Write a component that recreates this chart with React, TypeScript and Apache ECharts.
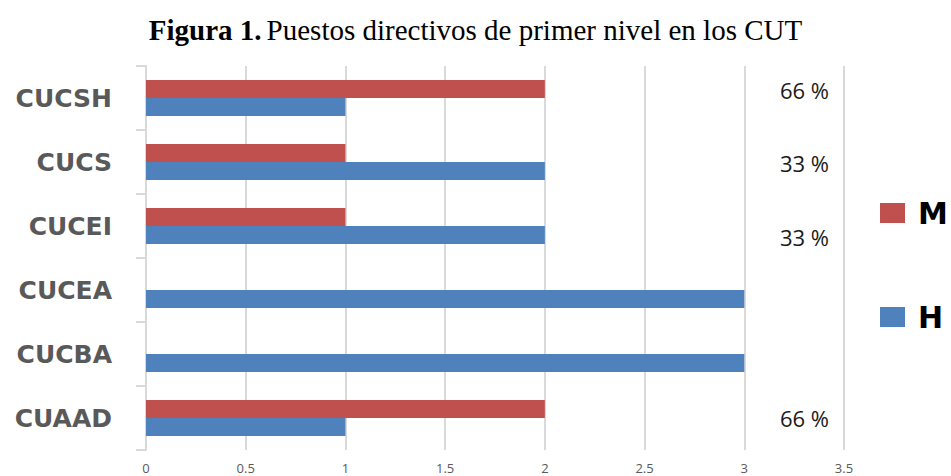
import React, { useEffect, useRef } from "react";
import * as echarts from "echarts";

const categories = ["CUAAD", "CUCBA", "CUCEA", "CUCEI", "CUCS", "CUCSH"];
const valuesH = [1, 3, 3, 2, 2, 1];
const valuesM = [2, 0, 0, 1, 1, 2];
const xTicks = [0, 0.5, 1, 1.5, 2, 2.5, 3, 3.5];
const percentLabels = ["66 %", "33 %", "33 %", "66 %"];
const percentY = [92, 165, 239, 420];

export default function App() {
  const ref = useRef<HTMLDivElement>(null);
  useEffect(() => {
    if (!ref.current) return;
    const chart = echarts.init(ref.current, null, { renderer: "svg" });
    chart.setOption({
      animation: false,
      backgroundColor: "#ffffff",
      title: {
        text: "{b|Figura 1.} {n|Puestos directivos de primer nivel en los CUT}",
        left: "center",
        top: 10,
        textStyle: {
          fontWeight: "normal",
          rich: {
            b: { fontFamily: "Liberation Serif", fontWeight: "bold", fontSize: 29, color: "#000" },
            n: { fontFamily: "Liberation Serif", fontWeight: "normal", fontSize: 29, color: "#000" },
          },
        },
      },
      legend: {
        orient: "vertical",
        left: 875,
        top: 193,
        itemWidth: 25,
        itemHeight: 20,
        itemGap: 74,
        icon: "rect",
        data: ["M", "H"],
        textStyle: {
          fontFamily: "DejaVu Sans",
          fontWeight: "bold",
          fontSize: 30,
          color: "#000",
          lineHeight: 20,
          padding: [0, 0, 0, 8],
        },
      },
      grid: { left: 146, right: 107, top: 66, bottom: 26, containLabel: false },
      xAxis: {
        type: "value",
        min: 0,
        max: xTicks[xTicks.length - 1],
        interval: 0.5,
        axisLine: { show: false },
        axisTick: { show: false },
        axisLabel: {
          color: "#595959",
          fontFamily: "Open Sans",
          fontSize: 13,
          margin: 11,
          formatter: (v: number) => String(v),
        },
        splitLine: { show: true, lineStyle: { color: "#d9d9d9", width: 2 } },
      },
      yAxis: {
        type: "category",
        data: categories,
        axisLine: { show: true, lineStyle: { color: "#d9d9d9", width: 2 } },
        axisTick: { show: true, length: 10, lineStyle: { color: "#d9d9d9", width: 2 } },
        axisLabel: {
          color: "#595959",
          fontFamily: "DejaVu Sans",
          fontWeight: "bold",
          fontSize: 25,
          margin: 34,
        },
      },
      series: [
        {
          name: "M",
          type: "bar",
          data: valuesM,
          barWidth: 18,
          barGap: "0%",
          itemStyle: { color: "#C0504D" },
        },
        {
          name: "H",
          type: "bar",
          data: valuesH,
          barWidth: 18,
          barGap: "0%",
          itemStyle: { color: "#4F81BD" },
        },
      ],
      graphic: percentLabels.map((t, i) => ({
        type: "text",
        left: 780,
        top: percentY[i] - 13,
        style: {
          text: t,
          fontFamily: "Open Sans",
          fontSize: 22,
          fill: "#1a1a1a",
        },
      })),
    });
    return () => chart.dispose();
  }, []);
  return <div ref={ref} style={{ width: 951, height: 476, position: "absolute", left: 0, top: 0 }} />;
}
